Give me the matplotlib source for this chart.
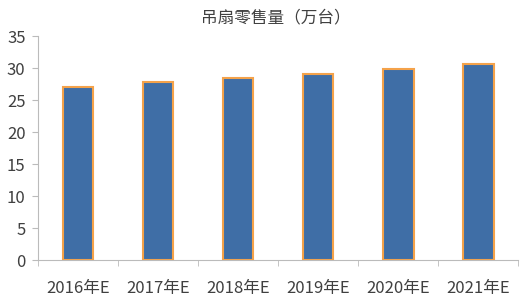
import numpy as np
import matplotlib.pyplot as plt

plt.rcParams['font.family'] = ['Noto Sans CJK SC', 'DejaVu Sans']

years = ['2016年E', '2017年E', '2018年E', '2019年E', '2020年E', '2021年E']
sales = [27.0, 27.8, 28.4, 29.1, 29.9, 30.7]

fig = plt.figure(figsize=(5.25, 3.01), dpi=100)
ax = fig.add_axes([0.0724, 0.136, 0.915, 0.744])

x = np.arange(len(years))
ax.bar(x, sales, width=0.38, color='#3F6EA6', edgecolor='#F4A24A', linewidth=1.5)

ax.set_xlim(-0.5, len(years) - 0.5)
ax.set_ylim(0, 35)
ax.set_yticks(np.arange(0, 36, 5))
ax.set_xticks(x)
ax.set_xticklabels(years)
ax.set_xticks(np.arange(-0.5, len(years), 1), minor=True)
ax.tick_params(axis='x', which='major', length=0, pad=14, labelsize=12, colors='#404040')
ax.tick_params(axis='x', which='minor', length=4, color='#BBBBBB', direction='out')
ax.tick_params(axis='y', length=4, color='#BBBBBB', labelsize=12, labelcolor='#404040', pad=5)

for side in ['top', 'right']:
    ax.spines[side].set_visible(False)
for side in ['left', 'bottom']:
    ax.spines[side].set_color('#BBBBBB')

fig.text(0.525, 0.94, '吊扇零售量（万台）', ha='center', va='center', fontsize=12, color='#404040')

plt.savefig('out.png', dpi=100)
